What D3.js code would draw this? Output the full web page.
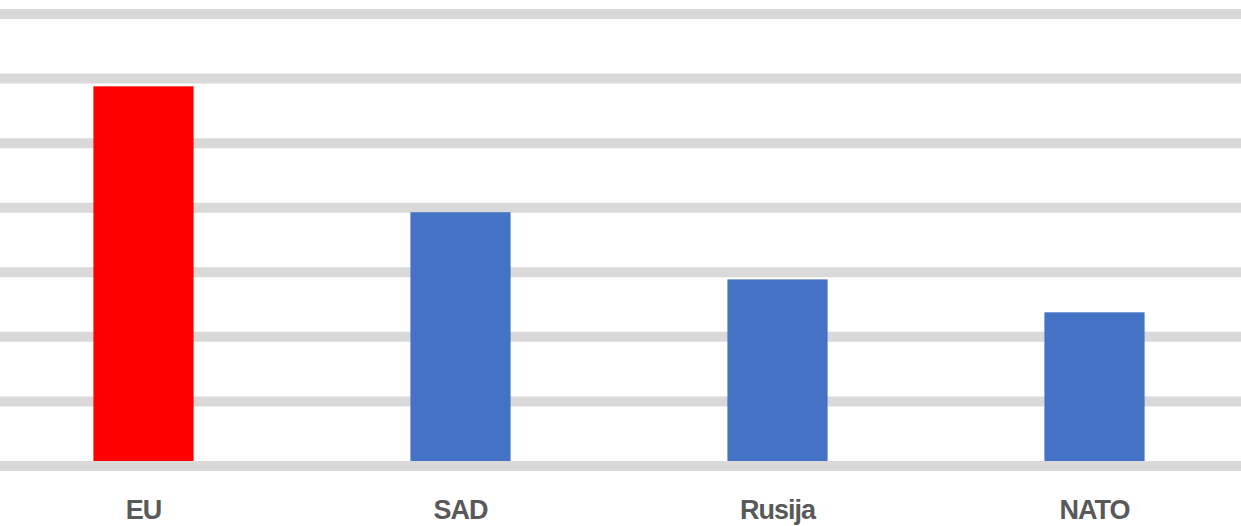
<!DOCTYPE html>
<html>
<head>
<meta charset="utf-8">
<script src="https://cdn.jsdelivr.net/npm/d3@7"></script>
<style>
  html, body { margin: 0; padding: 0; background: #ffffff; }
  svg { display: block; }
</style>
</head>
<body>
<svg id="chart" width="1241" height="526"></svg>
<script>
const categories = ["EU", "SAD", "Rusija", "NATO"];
const values = [5.88, 3.93, 2.89, 2.38];
const barColors = ["#ff0000", "#4472c4", "#4472c4", "#4472c4"];
const gridTicks = [0, 1, 2, 3, 4, 5, 6, 7];

const W = 1241, H = 526;
const svg = d3.select("#chart");

const x = d3.scaleBand()
  .domain(categories)
  .range([-15, 1253])
  .paddingInner(0.684)
  .paddingOuter(0.342);

const y = d3.scaleLinear()
  .domain([0, 7])
  .range([466, 14]);

// gridlines (behind bars)
const grid = svg.append("g").attr("class", "grid");
grid.selectAll("line")
  .data(gridTicks.filter(d => d !== 0))
  .join("line")
  .attr("x1", 0).attr("x2", W)
  .attr("y1", d => y(d)).attr("y2", d => y(d))
  .attr("stroke", "#d9d9d9")
  .attr("stroke-width", 10);

// bars
svg.append("g").selectAll("rect")
  .data(categories)
  .join("rect")
  .attr("x", d => x(d))
  .attr("width", x.bandwidth())
  .attr("y", (d, i) => y(values[i]))
  .attr("height", (d, i) => y(0) - y(values[i]))
  .attr("fill", (d, i) => barColors[i]);

// baseline gridline on top
svg.append("line")
  .attr("x1", 0).attr("x2", W)
  .attr("y1", y(0)).attr("y2", y(0))
  .attr("stroke", "#d9d9d9")
  .attr("stroke-width", 10);

// x axis labels
const xAxis = d3.axisBottom(x).tickSize(0).tickPadding(0);
const ax = svg.append("g")
  .attr("transform", `translate(0, ${y(0)})`)
  .call(xAxis);
ax.select(".domain").remove();
ax.selectAll("text")
  .attr("dy", null)
  .attr("y", 53)
  .attr("fill", "#595959")
  .style("font-family", "'Liberation Sans Narrow', 'Liberation Sans', Arial, sans-serif")
  .style("font-weight", "bold")
  .style("font-size", "27px")
  .style("letter-spacing", "-1px");
</script>
</body>
</html>
